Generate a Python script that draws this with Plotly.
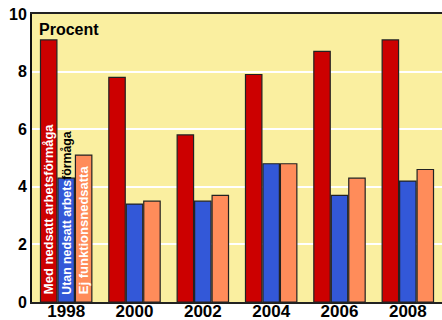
import plotly.graph_objects as go

years = ["1998", "2000", "2002", "2004", "2006", "2008"]
med_nedsatt = [9.1, 7.8, 5.8, 7.9, 8.7, 9.1]
utan_nedsatt = [4.3, 3.4, 3.5, 4.8, 3.7, 4.2]
ej_funktion = [5.1, 3.5, 3.7, 4.8, 4.3, 4.6]
y_ticks = [0, 2, 4, 6, 8, 10]

series = [
    ("Med nedsatt arbetsförmåga", med_nedsatt, "#cc0000"),
    ("Utan nedsatt arbetsförmåga", utan_nedsatt, "#3358d8"),
    ("Ej funktionsnedsatta", ej_funktion, "#ff8c5a"),
]

fig = go.Figure()
for name, vals, col in series:
    fig.add_trace(go.Bar(
        x=years, y=vals, name=name,
        marker=dict(color=col, line=dict(color="#222222", width=1.2)),
        showlegend=False,
    ))

font_fam = "Liberation Sans, Arial, sans-serif"

labels = [
    ("Med nedsatt arbetsförmåga", -17.5, 6, 13),
    ("Utan nedsatt arbets<span style='color:black'>förmåga</span>", 0, 5, 12.3),
    ("Ej funktionsnedsatta", 17.5, 6, 13),
]
for txt, dx, dy, fs in labels:
    fig.add_annotation(
        x=0, y=0, xref="x", yref="y", text=txt, textangle=-90,
        showarrow=False, xanchor="center", yanchor="bottom",
        xshift=dx, yshift=dy,
        font=dict(family=font_fam, size=fs, color="white", weight="bold"),
    )

fig.add_annotation(
    x=0, y=1, xref="paper", yref="paper", text="Procent",
    showarrow=False, xanchor="left", yanchor="top", xshift=5, yshift=-5,
    font=dict(family=font_fam, size=16, color="black", weight="bold"),
)

fig.update_layout(
    width=442, height=320,
    margin=dict(l=32, r=0, t=14, b=18, autoexpand=False),
    paper_bgcolor="white", plot_bgcolor="#faefa0",
    barmode="group", bargap=0.233, bargroupgap=0.06,
    font=dict(family=font_fam, color="black"),
)
fig.update_xaxes(
    type="category", range=[-0.5, 5.5], automargin=False,
    showline=True, linecolor="#222222", linewidth=2, mirror=True,
    showgrid=False, ticks="", ticklabelstandoff=-7,
    tickfont=dict(size=17, weight="bold", family=font_fam),
)
fig.update_yaxes(
    range=[0, 10], tickvals=y_ticks, showgrid=True, gridcolor="white", gridwidth=1.5,
    automargin=False,
    showline=True, linecolor="#111111", linewidth=2, zeroline=False, ticks="",
    tickfont=dict(size=16, weight="bold", family=font_fam),
)

fig.write_html(
    "out.html",
    config={"displayModeBar": False},
    post_script="document.body.style.margin='0';document.body.style.padding='0';",
)
